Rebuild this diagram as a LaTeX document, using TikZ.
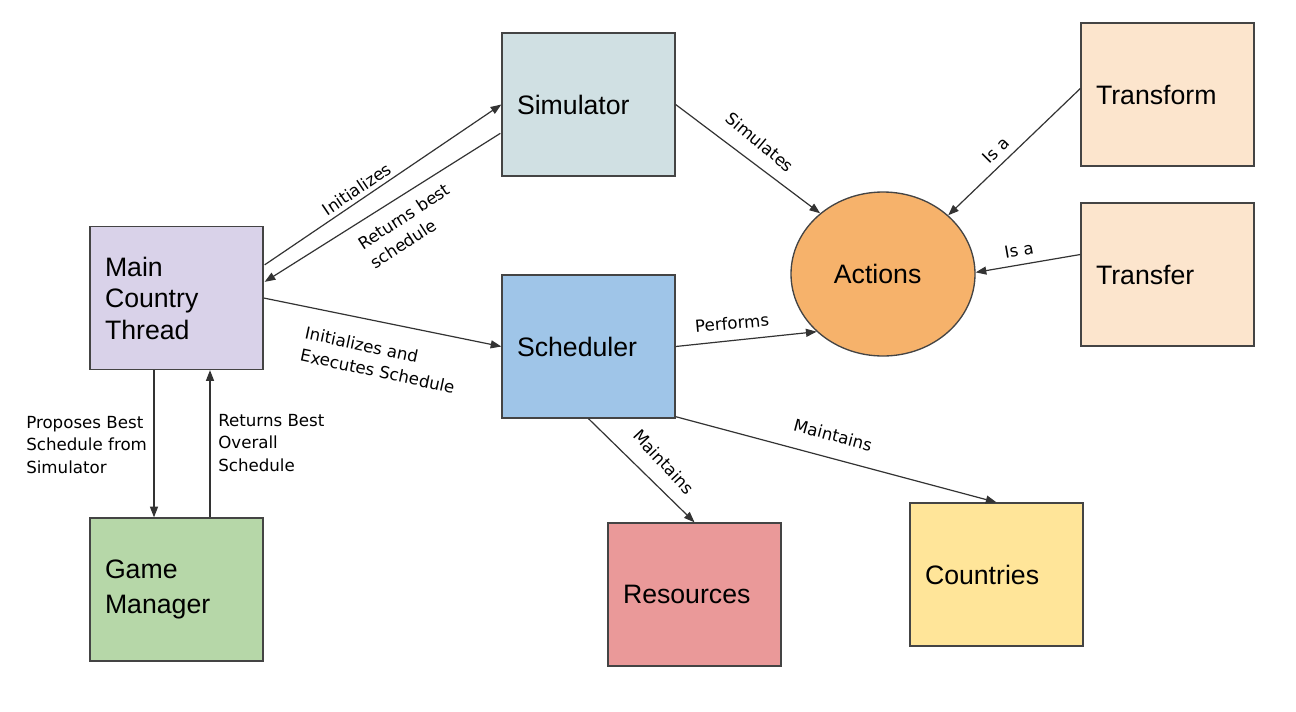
\documentclass[tikz,border=0pt]{standalone}
\usepackage{fontspec}
\setmainfont{Liberation Sans}
\newfontfamily\lblfont{DejaVu Sans}
\usetikzlibrary{arrows.meta,shapes.geometric,calc}
\definecolor{bordc}{HTML}{444444}
\definecolor{arrc}{HTML}{333333}
\definecolor{csim}{HTML}{D0E0E3}
\definecolor{ctrans}{HTML}{FCE5CD}
\definecolor{cact}{HTML}{F6B26B}
\definecolor{cmain}{HTML}{D9D2E9}
\definecolor{csched}{HTML}{9FC5E8}
\definecolor{cgame}{HTML}{B6D7A8}
\definecolor{cres}{HTML}{EA9999}
\definecolor{ccoun}{HTML}{FFE599}
\begin{document}
\begin{tikzpicture}[x=0.75pt,y=-0.75pt,
  box/.style={draw=bordc, line width=1pt, minimum width=129.75pt, minimum height=107.25pt,
    text width=107.25pt, inner xsep=11.25pt, inner ysep=0pt, align=left,
    font=\fontsize{20}{23.6}\selectfont},
  lbl/.style={font=\lblfont\fontsize{12.5}{17}\selectfont, inner sep=0pt, align=center},
  arr/.style={draw=arrc, line width=0.9pt, -{Triangle[length=8pt,width=6pt]}}]
\fill[white] (0,0) rectangle (1296,711);
\useasboundingbox (0,0) rectangle (1296,711);

\node[box, fill=csim] (sim) at (588.5,104.5) {Simulator};
\node[box, fill=ctrans] (transform) at (1167.5,94.5) {Transform};
\node[box, fill=ctrans] (transfer) at (1167.5,274.5) {Transfer};
\node[box, fill=cmain] (main) at (176.5,298) {Main\\Country\\Thread};
\node[box, fill=csched] (sched) at (588.5,346.5) {Scheduler};
\node[box, fill=cgame] (game) at (176.5,589.5) {\vspace*{3pt}Game\\Manager};
\node[box, fill=cres] (res) at (694.5,594.5) {Resources};
\node[box, fill=ccoun] (coun) at (996.5,574.5) {Countries};
\node[ellipse, draw=bordc, line width=1pt, fill=cact, minimum width=138pt, minimum height=123pt,
  inner sep=0pt, font=\fontsize{20}{23.6}\selectfont] (act) at (883,274) {\hspace*{-8pt}Actions};

% connectors
\draw[arr] ($(main.north east)+(1,39)$) -- (sim.west);
\draw[arr] ($(sim.north west)+(-1,101)$) -- ($(main.north east)+(1,56)$);
\draw[arr] (main.east) -- (sched.west);
\draw[arr] (sim.east) -- (act.136);
\draw[arr] ($(transform.west)+(0,-6)$) -- (act.42);
\draw[arr] ($(transfer.west)+(0,-20)$) -- (act.1);
\draw[arr] (sched.east) -- (act.221);
\draw[arr] (sched.south) -- (res.north);
\draw[arr] ($(sched.south east)+(0,-2)$) -- (coun.north);
\draw[arr] ($(main.south)+(-22.5,0)$) -- ($(game.north)+(-22.5,0)$);
\draw[arr] ($(game.north)+(33.5,0)$) -- ($(main.south)+(33.5,0)$);

% labels
\node[lbl, rotate=34] (l1) at (357,189) {Initializes};
\node[lbl, rotate=33, align=left] (l2) at (410,226) {Returns best\\schedule};
\node[lbl, rotate=-12, align=left] (l3) at (380,360) {Initializes and\\Executes Schedule};
\node[lbl, rotate=-40] (l4) at (760,142) {Simulates};
\node[lbl, rotate=45] (l5) at (996,150) {Is a};
\node[lbl, rotate=10] (l6) at (1019,250) {Is a};
\node[lbl, rotate=5] (l7) at (732,323) {Performs};
\node[lbl, rotate=-47] (l8) at (664,462) {Maintains};
\node[lbl, rotate=-15] (l9) at (833,435) {Maintains};
\node[lbl, align=left, anchor=west] (l10) at (26,445) {Proposes Best\\Schedule from\\Simulator};
\node[lbl, align=left, anchor=west] (l11) at (218,443) {Returns Best\\Overall\\Schedule};
\end{tikzpicture}
\end{document}
